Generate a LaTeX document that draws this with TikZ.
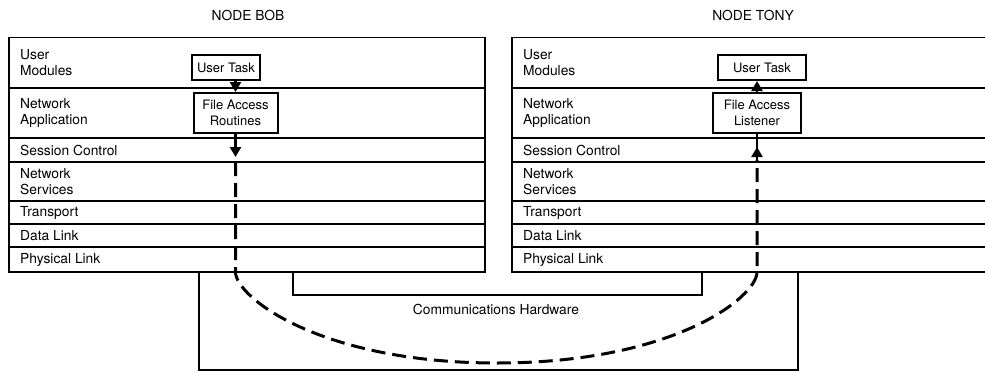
\documentclass[tikz,border=0pt]{standalone}
\usepackage{fontspec}
\setmainfont{TeX Gyre Heros}
\usetikzlibrary{arrows.meta}
\begin{document}
\begin{tikzpicture}[x=1pt,y=-1pt,
  frame/.style={line width=1.5pt},
  lbl/.style={anchor=west, align=left, inner sep=0pt, font=\fontsize{13.8}{16}\selectfont},
  head/.style={inner sep=0pt, font=\fontsize{13.8}{16}\selectfont},
  taskbox/.style={draw, line width=2pt, align=center, inner sep=0pt, font=\fontsize{13}{16}\selectfont},
  conn/.style={line width=2.6pt},
  tip/.style={-{Triangle[length=10pt,width=11pt]}},
  dashline/.style={line width=3pt, dash pattern=on 14pt off 7pt},
  hw/.style={line width=2.8pt}
]
\useasboundingbox (0,0) rectangle (985,372);

% headings
\node[head] (hbob) at (248,15) {NODE BOB};
\node[head] (htony) at (753,15) {NODE TONY};

% left stack
\draw[frame] (9,37.5) rectangle (485,272);
\foreach \yy in {88,138,162,201,224,247} \draw[frame] (9,\yy) -- (485,\yy);
% right stack (open at the right edge)
\draw[frame] (985,37.5) -- (512,37.5) -- (512,272) -- (985,272);
\foreach \yy in {88,138,162,201,224,247} \draw[frame] (512,\yy) -- (985,\yy);

% layer labels
\foreach \xx/\side in {20/L,523/R}{
  \node[lbl] (um\side) at (\xx,62.75) {User\\Modules};
  \node[lbl] (na\side) at (\xx,113) {Network\\Application};
  \node[lbl] (sc\side) at (\xx,150.5) {Session Control};
  \node[lbl] (ns\side) at (\xx,181.5) {Network\\Services};
  \node[lbl] (tr\side) at (\xx,212.5) {Transport};
  \node[lbl] (dl\side) at (\xx,235.5) {Data Link};
  \node[lbl] (pl\side) at (\xx,259.5) {Physical Link};
}

% task boxes
\node[taskbox, minimum width=68pt, minimum height=25pt] (ut1) at (226,67.5) {User Task};
\node[taskbox, minimum width=84pt, minimum height=40pt] (fa) at (235.5,113) {File Access\\Routines};
\node[taskbox, minimum width=88pt, minimum height=25pt] (ut2) at (762,67.5) {User Task};
\node[taskbox, minimum width=88pt, minimum height=40pt] (fl) at (757,113) {File Access\\Listener};

% arrows between boxes
\draw[conn, tip] (fa.north |- ut1.south) -- (fa.north);
\draw[conn, tip] (fl.north) -- (fl.north |- ut2.south);

% arrows in session control
\coordinate (ltip) at (fa.south |- 0,157);
\coordinate (rtip) at (fl.south |- 0,147);
\coordinate (rbase) at (fl.south |- 0,160);
\draw[conn, tip] (fa.south) -- (ltip);
\draw[conn] (fl.south) -- (rbase);
\draw[conn, tip] (rbase) -- (rtip);

% communications hardware
\coordinate (i1) at (293,272);
\coordinate (i2) at (702,272);
\coordinate (o1) at (199,272);
\coordinate (o2) at (798,272);
\draw[hw] (i1) -- (293,295) -- (702,295) -- (i2);
\draw[hw] (o1) -- (199,370) -- (798,370) -- (o2);
\node[head] (chw) at (496,309.5) {Communications Hardware};

% dashed logical link
\coordinate (dl0) at (fa.south |- 0,162);
\coordinate (dl1) at (fa.south |- 0,272);
\coordinate (dbot) at (497,363);
\coordinate (dr1) at (fl.south |- 0,272);
\draw[dashline] (dl0) -- (dl1) .. controls (235.5,297) and (320,363) .. (dbot)
  .. controls (674,363) and (757,297) .. (dr1) -- (rbase);
\end{tikzpicture}
\end{document}
